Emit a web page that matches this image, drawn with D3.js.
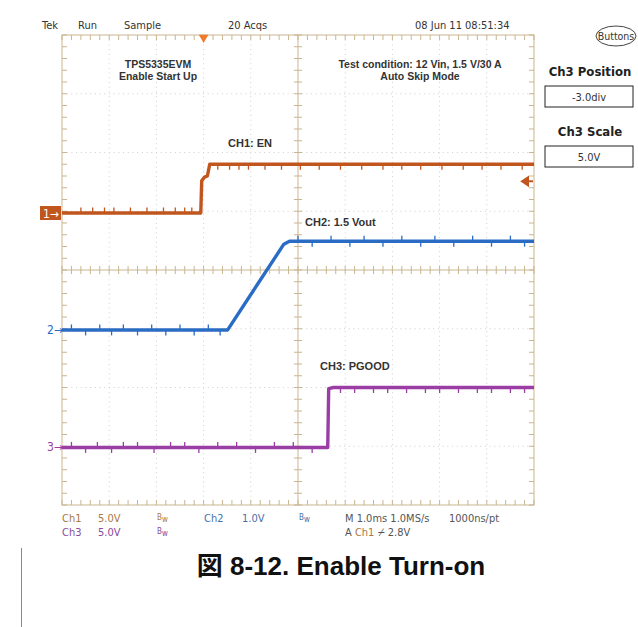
<!DOCTYPE html>
<html><head><meta charset="utf-8">
<script src="https://cdn.jsdelivr.net/npm/d3@7"></script>
<style>
body{margin:0;background:#fff}
svg{display:block}
text{font-family:"Liberation Sans Narrow","DejaVu Sans Condensed","Liberation Sans",Arial,sans-serif}
text.b{font-family:"Liberation Sans",Arial,sans-serif;font-weight:bold}
text.cap{font-family:"Liberation Sans","Noto Sans CJK JP",Arial,sans-serif;font-weight:bold}
</style>
</head><body>
<svg id="c" width="638" height="627"></svg>
<script>
// ---- data (time in ms, voltage in V) ----
const timeDomain = [-3, 7];
const divDomain = [-4, 4];
const ch1Time = [-3, -0.06, -0.04, 0.02, 0.08, 0.13, 7];
const ch1Volt = [-0.15, -0.15, 2.6, 2.9, 3.0, 4.0, 4.0];
const ch2Time = [-3, 0.51, 1.70, 1.82, 7];
const ch2Volt = [-0.02, -0.02, 1.44, 1.49, 1.49];
const ch3Time = [-3, 2.63, 2.65, 2.75, 7];
const ch3Volt = [-0.1, -0.1, 4.9, 5.0, 5.0];
const chPosDiv = [1, -1, -3];
const chScale = [5, 1, 5];
const trigLevel = 2.8;
// noise spikes: [time ms, direction (+1 up / -1 down)]
const ch1Glitch = [[-2.6,1],[-2.35,1],[-2.1,1],[-1.9,1],[-1.55,1],[-1.2,1],[-0.85,1],[-0.6,1],[-0.4,1],[-0.25,1],[0.3,-1],[0.55,-1],[0.75,-1],[0.95,-1],[1.3,-1],[1.65,-1],[2.05,-1],[2.45,-1],[2.9,-1],[3.35,-1],[3.8,-1],[4.2,-1],[4.6,-1],[5.05,-1],[5.5,-1],[5.9,-1],[6.3,-1],[6.75,-1]];
const ch2Glitch = [[-2.8,1],[-2.5,-1],[-2.2,1],[-1.95,-1],[-1.7,1],[-1.4,-1],[-1.1,1],[-0.8,-1],[-0.5,1],[-0.2,-1],[0.1,1],[0.35,-1],[2.0,1],[2.3,-1],[2.7,1],[3.1,-1],[3.4,1],[3.8,-1],[4.2,1],[4.6,-1],[4.9,1],[5.3,-1],[5.7,1],[6.1,-1],[6.5,1],[6.8,-1]];
const ch3Glitch = [[-2.8,1],[-2.5,-1],[-2.25,1],[-1.95,-1],[-1.7,1],[-1.4,1],[-1.05,-1],[-0.7,1],[-0.4,1],[-0.1,-1],[0.3,1],[0.7,1],[1.1,-1],[1.5,1],[1.9,1],[2.3,-1],[2.9,-1],[3.2,-1],[3.6,-1],[3.9,-1],[4.3,-1],[4.7,-1],[5.0,-1],[5.4,-1],[5.8,-1],[6.1,-1],[6.5,-1],[6.8,-1]];
const chColors = ["#c0561e", "#2a6cc4", "#9a3ea6"];
const chNames = ["CH1: EN", "CH2: 1.5 Vout", "CH3: PGOOD"];
const statusTop = ["Tek", "Run", "Sample", "20 Acqs", "08 Jun 11 08:51:34"];
const row1 = ["Ch1", "5.0V", "Ch2", "1.0V", "M 1.0ms 1.0MS/s", "1000ns/pt"];
const row2 = ["Ch3", "5.0V"];
const panelTitles = ["Ch3 Position", "Ch3 Scale"];
const panelValues = ["-3.0div", "5.0V"];
const caption = "図 8-12. Enable Turn-on";

// ---- layout ----
const svg = d3.select("#c");
const L = 62, R = 534, T = 35, B = 505;
const x = d3.scaleLinear().domain(timeDomain).range([L, R]);
const yd = d3.scaleLinear().domain(divDomain).range([B, T]);
const chY = i => v => yd(chPosDiv[i] + v / chScale[i]);
const tan = "#c9b590";

// dotted grid
const g = svg.append("g");
const xDivs = d3.range(timeDomain[0] + 1, timeDomain[1]);
const yDivs = d3.range(divDomain[0] + 1, divDomain[1]);
g.selectAll(".gv").data(xDivs.filter(d => d !== 2)).join("line")
  .attr("x1", d => x(d)).attr("x2", d => x(d)).attr("y1", T).attr("y2", B)
  .attr("stroke", "#cfcfcf").attr("stroke-dasharray", "1,3.7");
g.selectAll(".gh").data(yDivs.filter(d => d !== 0)).join("line")
  .attr("y1", d => yd(d)).attr("y2", d => yd(d)).attr("x1", L).attr("x2", R)
  .attr("stroke", "#cfcfcf").attr("stroke-dasharray", "1,3.7");

// center cross
g.append("line").attr("x1", x(2)).attr("x2", x(2)).attr("y1", T).attr("y2", B).attr("stroke", tan);
g.append("line").attr("x1", L).attr("x2", R).attr("y1", yd(0)).attr("y2", yd(0)).attr("stroke", tan);
const minorX = d3.range(timeDomain[0], timeDomain[1] + 0.001, 0.2);
const minorY = d3.range(divDomain[0], divDomain[1] + 0.001, 0.2);
g.selectAll(".cxt").data(minorX).join("line")
  .attr("x1", d => x(d)).attr("x2", d => x(d)).attr("y1", yd(0) - 4).attr("y2", yd(0) + 4).attr("stroke", tan);
g.selectAll(".cyt").data(minorY).join("line")
  .attr("y1", d => yd(d)).attr("y2", d => yd(d)).attr("x1", x(2) - 4).attr("x2", x(2) + 4).attr("stroke", tan);
// border ticks
g.selectAll(".tt").data(minorX).join("line")
  .attr("x1", d => x(d)).attr("x2", d => x(d)).attr("y1", T).attr("y2", T + 5).attr("stroke", tan);
g.selectAll(".bt").data(minorX).join("line")
  .attr("x1", d => x(d)).attr("x2", d => x(d)).attr("y1", B).attr("y2", B - 5).attr("stroke", tan);
g.selectAll(".lt").data(minorY).join("line")
  .attr("y1", d => yd(d)).attr("y2", d => yd(d)).attr("x1", L).attr("x2", L + 5).attr("stroke", tan);
g.selectAll(".rt").data(minorY).join("line")
  .attr("y1", d => yd(d)).attr("y2", d => yd(d)).attr("x1", R).attr("x2", R - 5).attr("stroke", tan);
g.append("rect").attr("x", L).attr("y", T).attr("width", R - L).attr("height", B - T)
  .attr("fill", "none").attr("stroke", tan);

// traces
const traces = [[ch1Time, ch1Volt, ch1Glitch], [ch2Time, ch2Volt, ch2Glitch], [ch3Time, ch3Volt, ch3Glitch]];
traces.forEach(([ts, vs, gl], i) => {
  const yy = chY(i);
  const pts = ts.map((t, k) => [t, vs[k]]);
  const line = d3.line().x(d => x(d[0])).y(d => yy(d[1]));
  svg.append("path").attr("d", line(pts)).attr("fill", "none")
    .attr("stroke", chColors[i]).attr("stroke-width", 3.4).attr("stroke-linejoin", "round");
  const lvl = t => {
    for (let k = 1; k < ts.length; k++) if (t <= ts[k]) {
      const f = (t - ts[k-1]) / (ts[k] - ts[k-1]); return vs[k-1] + f * (vs[k] - vs[k-1]); }
    return vs[vs.length - 1];
  };
  svg.selectAll(null).data(gl).join("line")
    .attr("x1", d => x(d[0])).attr("x2", d => x(d[0]))
    .attr("y1", d => yy(lvl(d[0]))).attr("y2", d => yy(lvl(d[0])) - d[1] * 5.5)
    .attr("stroke", chColors[i]).attr("stroke-width", 1.3);
});

// trace labels
const labPos = [[228, 147], [305, 226], [320, 370]];
chNames.forEach((s, i) => svg.append("text").attr("class", "b").attr("x", labPos[i][0]).attr("y", labPos[i][1])
  .attr("font-size", 11).attr("fill", "#333").text(s));
[["TPS5335EVM", 158, 68], ["Enable Start Up", 158, 80], ["Test condition: 12 Vin, 1.5 V/30 A", 420, 68], ["Auto Skip Mode", 420, 80]]
  .forEach(([s, tx, ty]) => svg.append("text").attr("class", "b").attr("x", tx).attr("y", ty).attr("text-anchor", "middle")
    .attr("font-size", 10.5).attr("fill", "#333").text(s));

// channel ground markers
svg.append("rect").attr("x", 40).attr("y", chY(0)(-0.15) - 7).attr("width", 21).attr("height", 14).attr("fill", chColors[0]);
svg.append("text").attr("x", 43).attr("y", chY(0)(-0.15) + 4.5).attr("font-size", 12).attr("fill", "#fff").text("1→");
svg.append("text").attr("x", 47).attr("y", chY(1)(0) + 5).attr("font-size", 12).attr("fill", chColors[1]).text("2→");
svg.append("text").attr("x", 47).attr("y", chY(2)(0) + 5).attr("font-size", 12).attr("fill", chColors[2]).text("3→");
// trigger level arrow
const ta = chY(0)(trigLevel) + 3;
svg.append("path").attr("d", `M522,${ta} L528,${ta - 4} L528,${ta + 4} Z M527,${ta} L533,${ta}`)
  .attr("fill", chColors[0]).attr("stroke", chColors[0]).attr("stroke-width", 2);
// trigger position marker
svg.append("path").attr("d", d3.symbol(d3.symbolTriangle, 40)())
  .attr("transform", `translate(${x(0)},${T + 2.5}) rotate(180)`).attr("fill", "#f07a28");

// status top
const topX = [42, 78, 124, 228, 415];
statusTop.forEach((s, i) => svg.append("text").attr("x", topX[i]).attr("y", 29).attr("font-size", 11).attr("fill", "#333").text(s));

// right panel
svg.append("ellipse").attr("cx", 616).attr("cy", 36).attr("rx", 20).attr("ry", 10).attr("fill", "none").attr("stroke", "#444");
svg.append("text").attr("x", 616).attr("y", 40).attr("text-anchor", "middle").attr("font-size", 10.5).attr("fill", "#333").text("Buttons");
panelTitles.forEach((s, i) => {
  const y0 = 72 + i * 60;
  svg.append("text").attr("x", 590).attr("y", y0 + 4).attr("text-anchor", "middle")
    .attr("font-size", 13).attr("font-weight", "bold").attr("fill", "#222").text(s);
  svg.append("rect").attr("x", 545).attr("y", y0 + 14).attr("width", 88).attr("height", 21)
    .attr("fill", "#fff").attr("stroke", "#222");
  svg.append("text").attr("x", 589).attr("y", y0 + 29).attr("text-anchor", "middle")
    .attr("font-size", 11).attr("fill", "#333").text(panelValues[i]);
});

// bottom readout
const c1 = "#a87a48", c2 = "#4a70aa", c3 = "#8a4a9c", cg = "#555";
const r1 = [[62, c1], [98, c1], [204, c2], [242, c2], [345, cg], [449, cg]];
row1.forEach((s, i) => svg.append("text").attr("x", r1[i][0]).attr("y", 522).attr("font-size", 11).attr("fill", r1[i][1]).text(s));
const r2 = [[62, c3], [98, c3]];
row2.forEach((s, i) => svg.append("text").attr("x", r2[i][0]).attr("y", 536).attr("font-size", 11).attr("fill", r2[i][1]).text(s));
[[157, 520, c1], [157, 534, c3], [299, 520, c2]].forEach(([bx, by, bc]) => {
  const t = svg.append("text").attr("x", bx).attr("y", by).attr("font-size", 8).attr("fill", bc);
  t.append("tspan").text("B");
  t.append("tspan").attr("dy", 2).text("w");
});
const r2b = svg.append("text").attr("x", 345).attr("y", 536).attr("font-size", 11).attr("fill", cg);
r2b.append("tspan").text("A ");
r2b.append("tspan").attr("fill", c1).text("Ch1");
r2b.append("tspan").text(" ⌿ 2.8V");

// caption
svg.append("text").attr("class", "cap").attr("x", 341).attr("y", 575).attr("text-anchor", "middle")
  .attr("font-size", 26).attr("fill", "#111").text(caption);
svg.append("line").attr("x1", 21.5).attr("x2", 21.5).attr("y1", 548).attr("y2", 627).attr("stroke", "#888");
</script>
</body></html>
